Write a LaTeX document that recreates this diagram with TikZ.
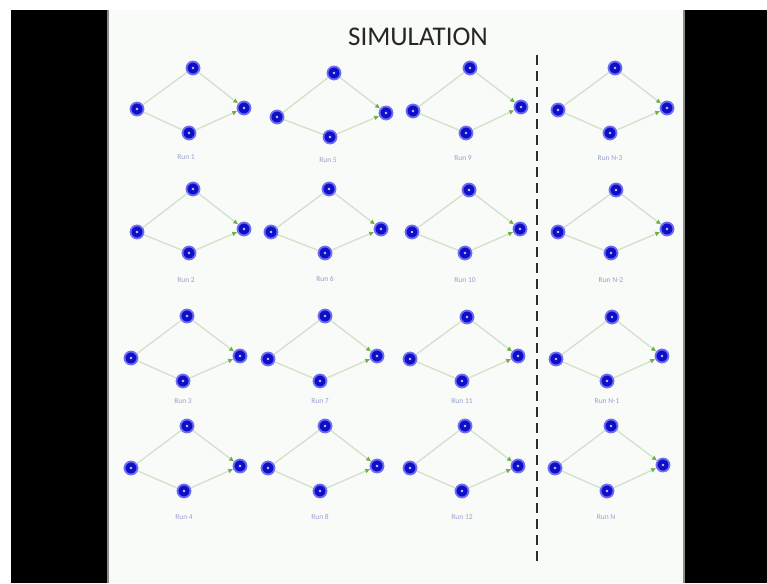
\documentclass[tikz,border=0pt]{standalone}
\usepackage{fontspec}
\setmainfont{Carlito}
\usetikzlibrary{arrows.meta}
\definecolor{slide}{RGB}{249,251,248}
\definecolor{nodeblue}{RGB}{15,15,200}
\definecolor{ringblue}{RGB}{110,110,245}
\definecolor{edgecol}{RGB}{210,225,200}
\definecolor{arrowcol}{RGB}{110,175,70}
\definecolor{labelcol}{RGB}{150,160,205}
\definecolor{dashcol}{RGB}{45,45,45}
\tikzset{
  vtx/.style={circle, fill=nodeblue, draw=ringblue, line width=1.8pt, minimum size=13pt, inner sep=0pt,
    path picture={\fill[ringblue!40!white] (path picture bounding box.center) circle (1.4pt);}},
  edge/.style={draw=edgecol, line width=1.3pt},
  aedge/.style={edge, -{Latex[length=5pt,width=5pt,color=arrowcol]}},
  runlabel/.style={text=labelcol, font=\fontsize{7.5}{8}\selectfont, inner sep=0pt},
  dashline/.style={draw=dashcol, line width=2.6pt, dash pattern=on 10pt off 6pt},
  titletext/.style={font=\fontsize{27}{30}\selectfont, text=black!85, inner sep=0pt}
}
\newcommand\rungraph[7]{%
  \node[vtx] (#1L) at (#2) {};
  \node[vtx] (#1T) at (#3) {};
  \node[vtx] (#1R) at (#4) {};
  \node[vtx] (#1B) at (#5) {};
  \draw[edge] (#1L) -- (#1T);
  \draw[edge] (#1L) -- (#1B);
  \draw[aedge] (#1T) -- (#1R);
  \draw[aedge] (#1B) -- (#1R);
  \node[runlabel] (#1lab) at (#6) {#7};
}
\begin{document}
\begin{tikzpicture}[x=1pt,y=-1pt]
  \useasboundingbox (0,0) rectangle (767,583);
  \fill[white] (0,0) rectangle (767,583);
  \fill[black] (11,10) rectangle (107,583);
  \fill[black!45] (107,10) rectangle (109,583);
  \fill[slide] (109,10) rectangle (683,583);
  \fill[black!45] (683,10) rectangle (685,583);
  \fill[black] (685,10) rectangle (767,583);

  \node[titletext] (title) at (418,37) {SIMULATION};

  \coordinate (dtop) at (537,55);
  \coordinate (dbot) at (537,562);
  \draw[dashline] (dtop) -- (dbot);

  % column 1
  \rungraph{ra}{137,109}{193,68}{244,108}{189,133}{186,157}{Run 1}
  \rungraph{rb}{137,232}{193,189}{244,229}{189,253}{186,280}{Run 2}
  \rungraph{rc}{131,358}{187,316}{240,356}{183,381}{183,401}{Run 3}
  \rungraph{rd}{131,468}{187,426}{240,466}{184,491}{184,517}{Run 4}
  % column 2
  \rungraph{re}{277,117}{334,73}{386,113}{330,137}{328,160}{Run 5}
  \rungraph{rf}{271,232}{329,189}{381,229}{325,253}{325,279}{Run 6}
  \rungraph{rg}{268,359}{325,316}{377,356}{320,381}{320,401}{Run 7}
  \rungraph{rh}{268,468}{325,426}{377,466}{320,491}{320,517}{Run 8}
  % column 3
  \rungraph{ri}{413,111}{470,68}{521,107}{466,133}{463,158}{Run 9}
  \rungraph{rj}{412,232}{469,190}{520,229}{465,253}{465,280}{Run 10}
  \rungraph{rk}{410,359}{467,317}{518,356}{462,381}{462,401}{Run 11}
  \rungraph{rl}{410,468}{465,426}{518,466}{462,491}{462,517}{Run 12}
  % column 4
  \rungraph{rm}{558,110}{615,68}{667,108}{610,133}{610,158}{Run N-3}
  \rungraph{rn}{558,232}{616,190}{667,229}{611,253}{611,280}{Run N-2}
  \rungraph{ro}{556,359}{612,317}{662,356}{607,381}{607,401}{Run N-1}
  \rungraph{rp}{555,468}{611,426}{663,465}{607,491}{606,517}{Run N}
\end{tikzpicture}
\end{document}
